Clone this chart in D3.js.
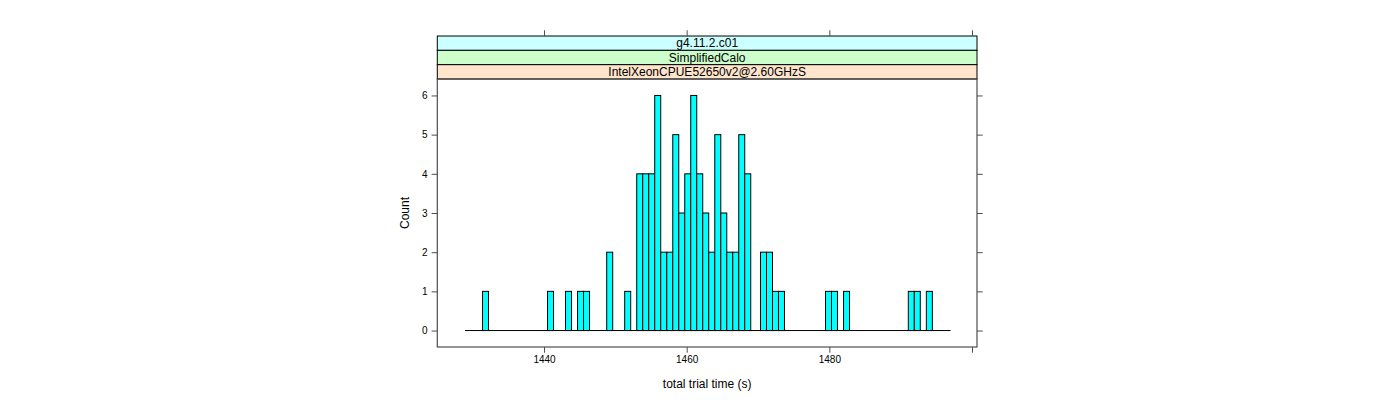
<!DOCTYPE html>
<html>
<head>
<meta charset="utf-8">
<script src="https://cdn.jsdelivr.net/npm/d3@7"></script>
<style>
  html, body { margin: 0; padding: 0; background: #ffffff; }
  svg { display: block; }
  text { font-family: "Liberation Sans", Arial, Helvetica, sans-serif; fill: #000; }
</style>
</head>
<body>
<svg id="chart" width="1400" height="400"></svg>
<script>
// ---- data ----
const stripLabels = ["g4.11.2.c01", "SimplifiedCalo", "IntelXeonCPUE52650v2@2.60GHzS"];
const stripColors = ["#ccffff", "#ccffcc", "#ffe5cc"];
const xLabel = "total trial time (s)";
const yLabel = "Count";

// histogram: range of all breaks (zero-count bins drawn as flat rects) and bin width
const histRange = [1428.92, 1496.99];
const binWidth = 0.8412;
// left edge (seconds) of each non-empty bin and its count
const binStarts = [
  1431.38, 1440.49, 1443.01, 1444.70, 1445.54, 1448.79, 1451.31,
  1453.00, 1453.84, 1454.68, 1455.52, 1456.36, 1457.21, 1458.05, 1458.89, 1459.73, 1460.57,
  1461.41, 1462.25, 1463.09, 1463.94, 1464.78, 1465.62, 1466.46, 1467.30, 1468.14,
  1470.35, 1471.19, 1472.03, 1472.87,
  1479.46, 1480.30, 1481.99,
  1491.07, 1491.91, 1493.60
];
const binCounts = [
  1, 1, 1, 1, 1, 2, 1,
  4, 4, 4, 6, 2, 2, 5, 3, 4, 6,
  4, 3, 2, 5, 3, 2, 2, 5, 4,
  2, 2, 1, 1,
  1, 1, 1,
  1, 1, 1
];

const xTicks = [1440, 1460, 1480, 1500];
const xTickLabels = ["1440", "1460", "1480", ""];
const yTicks = [0, 1, 2, 3, 4, 5, 6];

const xLim = [1425.04, 1500.70];
const yLim = [-0.42, 6.42];

// ---- layout ----
const panel = { left: 437.3, right: 977, top: 79, bottom: 347 };
const stripH = 14.33;
const tickLen = 5.7;
const frameCol = "#4d4d4d";

const svg = d3.select("#chart");

const x = d3.scaleLinear().domain(xLim).range([panel.left, panel.right]);
const y = d3.scaleLinear().domain(yLim).range([panel.bottom, panel.top]);

// strips (top-most level first)
const stripTop = panel.top - stripH * stripLabels.length;
const strips = svg.append("g");
stripLabels.forEach((lab, i) => {
  const y0 = stripTop + i * stripH;
  strips.append("rect")
    .attr("x", panel.left).attr("y", y0)
    .attr("width", panel.right - panel.left).attr("height", stripH)
    .attr("fill", stripColors[i]).attr("stroke", "#000").attr("stroke-width", 1);
  strips.append("text")
    .attr("x", (panel.left + panel.right) / 2).attr("y", y0 + stripH / 2)
    .attr("text-anchor", "middle").attr("dominant-baseline", "central")
    .attr("font-size", 12).text(lab);
});

// zero-count bins (flat baseline)
svg.append("line")
  .attr("x1", x(histRange[0])).attr("x2", x(histRange[1]))
  .attr("y1", y(0)).attr("y2", y(0))
  .attr("stroke", "#000").attr("stroke-width", 1);

// bars
svg.append("g").selectAll("rect")
  .data(binStarts.map((s, i) => ({ s, c: binCounts[i] })))
  .join("rect")
  .attr("x", d => x(d.s))
  .attr("width", d => x(d.s + binWidth) - x(d.s))
  .attr("y", d => y(d.c))
  .attr("height", d => y(0) - y(d.c))
  .attr("fill", "#00ffff")
  .attr("stroke", "#000")
  .attr("stroke-width", 1);

// panel frame
svg.append("rect")
  .attr("x", panel.left).attr("y", panel.top)
  .attr("width", panel.right - panel.left).attr("height", panel.bottom - panel.top)
  .attr("fill", "none").attr("stroke", frameCol).attr("stroke-width", 1.2);

function styleTicks(g) {
  g.select(".domain").remove();
  g.selectAll(".tick line").attr("stroke", frameCol);
}

// bottom axis
const xAxis = d3.axisBottom(x).tickValues(xTicks)
  .tickFormat((d, i) => xTickLabels[i]).tickSize(tickLen).tickPadding(3);
const gx = svg.append("g").attr("transform", `translate(0,${panel.bottom})`).call(xAxis);
styleTicks(gx);
gx.selectAll("text").attr("font-size", 10).attr("font-family", "Liberation Sans, Arial, sans-serif");

// top axis (ticks above strips)
const gxt = svg.append("g").attr("transform", `translate(0,${stripTop})`)
  .call(d3.axisTop(x).tickValues(xTicks).tickFormat("").tickSize(tickLen));
styleTicks(gxt);

// left axis
const yAxis = d3.axisLeft(y).tickValues(yTicks).tickFormat(d3.format("d"))
  .tickSize(tickLen).tickPadding(4);
const gy = svg.append("g").attr("transform", `translate(${panel.left},0)`).call(yAxis);
styleTicks(gy);
gy.selectAll("text").attr("font-size", 10).attr("font-family", "Liberation Sans, Arial, sans-serif");

// right axis
const gyr = svg.append("g").attr("transform", `translate(${panel.right},0)`)
  .call(d3.axisRight(y).tickValues(yTicks).tickFormat("").tickSize(tickLen));
styleTicks(gyr);

// axis titles
svg.append("text")
  .attr("x", (panel.left + panel.right) / 2).attr("y", 388)
  .attr("text-anchor", "middle").attr("font-size", 12).text(xLabel);
svg.append("text")
  .attr("transform", `translate(409,${(panel.top + panel.bottom) / 2}) rotate(-90)`)
  .attr("text-anchor", "middle").attr("font-size", 12).text(yLabel);
</script>
</body>
</html>
